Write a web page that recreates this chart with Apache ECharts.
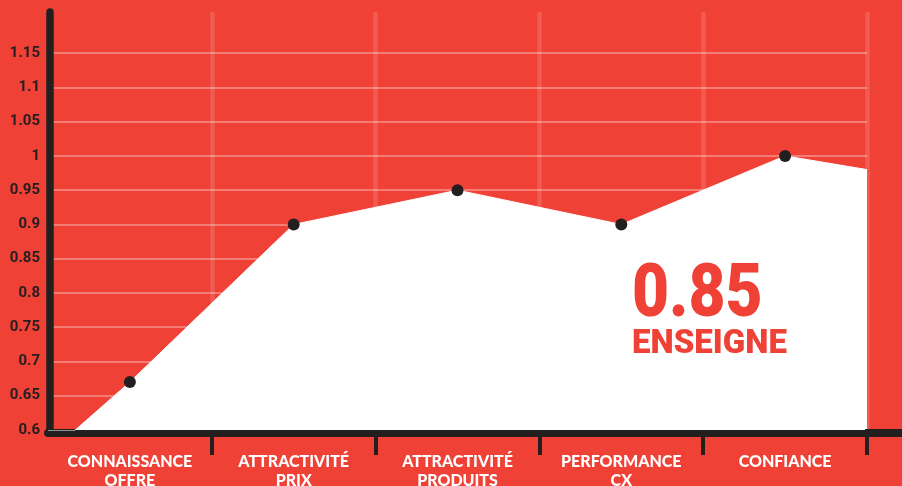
<!DOCTYPE html>
<html>
<head>
<meta charset="utf-8">
<script src="https://cdn.jsdelivr.net/npm/echarts@6/dist/echarts.min.js"></script>
<style>
  html, body {margin: 0; padding: 0; background: #EF4136;}
  #chart {width: 902px; height: 486px;}
</style>
</head>
<body>
<div id="chart"></div>
<script>
// categories along the x axis
const categories = ['CONNAISSANCE\nOFFRE', 'ATTRACTIVITÉ\nPRIX', 'ATTRACTIVITÉ\nPRODUITS', 'PERFORMANCE\nCX', 'CONFIANCE']
// score per category (dots)
const scores = [0.67, 0.9, 0.95, 0.9, 1.0]
// line value at the left / right edge of the plot
const edgeValues = [0.565, 0.98]
// y tick labels
const yTicks = [0.6, 0.65, 0.7, 0.75, 0.8, 0.85, 0.9, 0.95, 1, 1.05, 1.1, 1.15]
const headline = '0.85'
const headlineLabel = 'ENSEIGNE'

const red = '#EF4136'
const ink = '#231F20'

// points sit at category centres, edges at 0 and categories.length
const lineData = [{value: [0, edgeValues[0]], symbol: 'none'}]
scores.forEach((v, i) => lineData.push({value: [i + 0.5, v]}))
lineData.push({value: [categories.length, edgeValues[1]], symbol: 'none'})

const chart = echarts.init(document.getElementById('chart'))

chart.setOption({
  backgroundColor: red,
  animation: false,
  grid: {left: 48, right: 35, top: 12, bottom: 56, outerBoundsMode: 'none'},
  xAxis: {
    type: 'value',
    min: 0,
    max: categories.length,
    interval: 1,
    offset: 3,
    axisLine: {lineStyle: {color: ink, width: 8}},
    axisTick: {
      customValues: categories.map((c, i) => i + 1),
      length: 22,
      lineStyle: {color: ink, width: 4}
    },
    axisLabel: {
      customValues: categories.map((c, i) => i + 0.5),
      formatter: v => categories[Math.floor(v)],
      color: '#fff',
      fontFamily: 'Lato',
      fontWeight: 900,
      fontSize: 16,
      lineHeight: 19,
      margin: 19
    },
    splitLine: {
      show: true,
      lineStyle: {color: 'rgba(255,255,255,0.14)', width: 4.5}
    }
  },
  yAxis: {
    type: 'value',
    min: 0.6,
    max: 1.21,
    offset: -2,
    axisLine: {show: true, lineStyle: {color: ink, width: 7.5}},
    axisTick: {show: false, customValues: yTicks},
    axisLabel: {
      customValues: yTicks,
      color: ink,
      fontFamily: 'Roboto',
      fontWeight: 'bold',
      fontSize: 15,
      margin: 10
    },
    splitLine: {
      showMinLine: false,
      lineStyle: {color: 'rgba(255,255,255,0.32)', width: 2}
    }
  },
  series: [{
    type: 'line',
    data: lineData,
    symbol: 'circle',
    symbolSize: 12,
    itemStyle: {color: ink},
    lineStyle: {color: '#fff', width: 1},
    areaStyle: {color: '#fff', opacity: 1},
    z: 3
  }],
  graphic: [
    // axis line runs on past the plot to the page edge
    {type: 'rect', shape: {x: 865, y: 429, width: 40, height: 8}, style: {fill: ink}, z: 10},
    {type: 'text', x: 632, y: 297, scaleX: 0.865, z: 10, style: {
      text: headline, fill: red, font: '900 74px Roboto', textVerticalAlign: 'middle'
    }},
    {type: 'text', x: 632, y: 345, z: 10, style: {
      text: headlineLabel, fill: red, font: '900 33px Roboto', textVerticalAlign: 'middle'
    }}
  ]
})
</script>
</body>
</html>
